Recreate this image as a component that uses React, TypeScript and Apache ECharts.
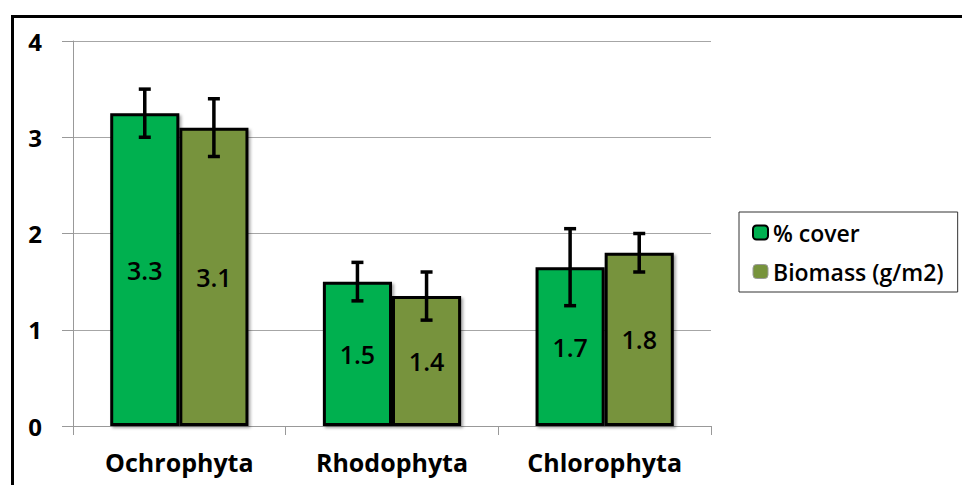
import React, { useEffect, useRef } from "react";
import * as echarts from "echarts";

const categories = ["Ochrophyta", "Rhodophyta", "Chlorophyta"];
const coverValues = [3.25, 1.5, 1.65];
const coverErrors = [0.25, 0.2, 0.4];
const biomassValues = [3.1, 1.35, 1.8];
const biomassErrors = [0.3, 0.25, 0.2];
const yTicks = [0, 1, 2, 3, 4];

const FONT = "'Open Sans', 'DejaVu Sans', sans-serif";
const GREEN = "#00B050";
const OLIVE = "#77933C";

export default function App() {
  const ref = useRef<HTMLDivElement>(null);

  useEffect(() => {
    document.body.style.margin = "0";
    const chart = echarts.init(ref.current!, undefined, { renderer: "svg" });

    const errData = (vals: number[], errs: number[], s: number) =>
      vals.map((v, i) => [i, v - errs[i], v + errs[i], s]);

    const renderErr = (params: any, api: any) => {
      const idx = api.value(0);
      const lo = api.coord([idx, api.value(1)]);
      const hi = api.coord([idx, api.value(2)]);
      const band = api.size([1, 0])[0];
      const barW = (band * 0.65) / 2;
      const side = api.value(3) === 0 ? -1 : 1;
      const x = lo[0] + (side * barW) / 2;
      const cap = 6;
      const style = { stroke: "#000", lineWidth: 3.5 };
      return {
        type: "group",
        children: [
          { type: "line", shape: { x1: x, y1: hi[1], x2: x, y2: lo[1] }, style },
          { type: "line", shape: { x1: x - cap, y1: hi[1], x2: x + cap, y2: hi[1] }, style },
          { type: "line", shape: { x1: x - cap, y1: lo[1], x2: x + cap, y2: lo[1] }, style },
        ],
      };
    };

    const labelFmt = (p: any) => (Math.round(p.value * 10) / 10).toFixed(1);

    const barCommon = {
      type: "bar",
      barGap: "0%",
      barCategoryGap: "35%",
      label: {
        show: true,
        position: "inside",
        formatter: labelFmt,
        color: "#000",
        fontFamily: FONT,
        fontSize: 25,
        fontWeight: 600,
      },
    };

    chart.setOption({
      animation: false,
      backgroundColor: "#fff",
      grid: { left: 73, right: 251, top: 41, bottom: 59, containLabel: false },
      legend: {
        orient: "vertical",
        left: 739,
        top: 212,
        padding: [9, 14, 9, 13],
        itemGap: 16,
        itemWidth: 15,
        itemHeight: 14,
        borderColor: "#333",
        borderWidth: 1,
        selectedMode: false,
        textStyle: { fontFamily: FONT, fontSize: 23, fontWeight: 600, color: "#000" },
        data: [
          { name: "% cover", itemStyle: { borderColor: "#000", borderWidth: 2 } },
          { name: "Biomass (g/m2)", itemStyle: { borderColor: "#999", borderWidth: 1 } },
        ],
      },
      xAxis: {
        type: "category",
        data: categories,
        axisLine: { show: true, lineStyle: { color: "#999", width: 1 } },
        axisTick: { show: true, length: 9, lineStyle: { color: "#999" } },
        axisLabel: {
          margin: 23,
          color: "#000",
          fontFamily: FONT,
          fontSize: 25,
          fontWeight: "bold",
        },
      },
      yAxis: {
        type: "value",
        min: yTicks[0],
        max: yTicks[yTicks.length - 1],
        interval: 1,
        axisLine: { show: true, lineStyle: { color: "#999", width: 1 } },
        axisTick: { show: true, length: 11, lineStyle: { color: "#999" } },
        axisLabel: {
          margin: 31,
          color: "#000",
          fontFamily: FONT,
          fontSize: 24,
          fontWeight: "bold",
        },
        splitLine: { show: true, lineStyle: { color: "#a6a6a6", width: 1 } },
      },
      series: [
        {
          ...barCommon,
          name: "% cover",
          data: coverValues,
          itemStyle: {
            color: GREEN,
            borderColor: "#000",
            borderWidth: 3,
            shadowColor: "rgba(0,0,0,0.35)",
            shadowBlur: 3,
            shadowOffsetX: 2,
            shadowOffsetY: 2,
          },
        },
        {
          ...barCommon,
          name: "Biomass (g/m2)",
          data: biomassValues,
          itemStyle: {
            color: OLIVE,
            borderColor: "#000",
            borderWidth: 3,
            shadowColor: "rgba(0,0,0,0.35)",
            shadowBlur: 3,
            shadowOffsetX: 2,
            shadowOffsetY: 2,
          },
        },
        {
          type: "custom",
          name: "err-cover",
          renderItem: renderErr,
          encode: { x: 0, y: [1, 2] },
          data: errData(coverValues, coverErrors, 0),
          z: 10,
          silent: true,
        },
        {
          type: "custom",
          name: "err-biomass",
          renderItem: renderErr,
          encode: { x: 0, y: [1, 2] },
          data: errData(biomassValues, biomassErrors, 1),
          z: 10,
          silent: true,
        },
      ],
      graphic: [
        {
          type: "rect",
          left: 10,
          top: 14,
          shape: { x: 0, y: 0, width: 1000, height: 1000 },
          style: { fill: "none", stroke: "#000", lineWidth: 3 },
          silent: true,
          z: 100,
        },
      ],
    });

    return () => chart.dispose();
  }, []);

  return <div ref={ref} style={{ width: 962, height: 485 }} />;
}
